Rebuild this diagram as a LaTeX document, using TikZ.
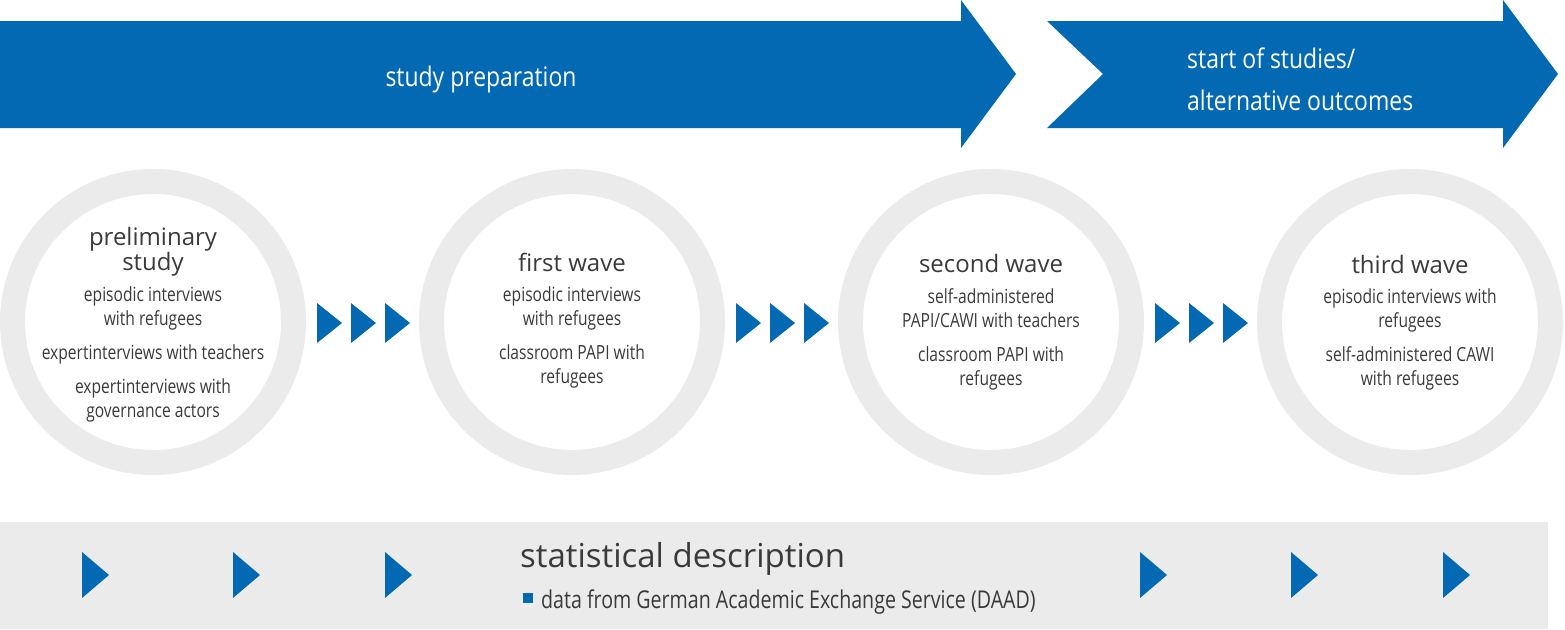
\documentclass[tikz,border=0pt]{standalone}
\usepackage{fontspec}
\setmainfont{Open Sans}
\newfontfamily\condfont[FakeStretch=0.8]{Open Sans}
\newfontfamily\bandfont[FakeStretch=0.85]{Open Sans}
\usetikzlibrary{positioning}
\definecolor{daadblue}{HTML}{0369B3}
\definecolor{ringgray}{HTML}{EBEBEB}
\definecolor{textgray}{HTML}{3A3A3A}

\begin{document}
\begin{tikzpicture}[
    x=1pt, y=-1pt,
    ring/.style={circle, draw=ringgray, line width=25pt, minimum size=281pt, inner sep=0pt},
    wavetitle/.style={anchor=base, align=center, inner sep=0pt, text=textgray, font=\fontsize{24}{22}\selectfont},
    wavetext/.style={anchor=base, align=center, inner sep=0pt, text=textgray, font=\condfont\fontsize{19.5}{24}\selectfont},
    bandtext/.style={inner sep=0pt, text=white, font=\bandfont\fontsize{27}{42}\selectfont},
    chevron/.style={fill=daadblue}
]
\useasboundingbox (0,0) rectangle (1565,629);

% phase arrows
\fill[daadblue] (0,21) -- (961,21) -- (961,0) -- (1016,74) -- (961,148) -- (961,128) -- (0,128) -- cycle;
\fill[daadblue] (1047,21) -- (1503,21) -- (1503,0) -- (1558,74) -- (1503,148) -- (1503,128) -- (1047,128) -- (1103,74) -- cycle;
\node[bandtext, anchor=base] (prep) at (481,86) {study preparation};
\node[bandtext, anchor=base west, align=left] (start) at (1187,110) {start of studies/\\alternative outcomes};

% waves (base anchor = last line)
\node[ring] (prelim) at (153,322) {};
\node[ring] (first) at (572,322) {};
\node[ring] (second) at (991,322) {};
\node[ring] (third) at (1410,322) {};

\node[wavetitle] (prelim-t) at (153,270) {preliminary\\study};
\node[wavetext] (prelim-b) at (153,417) {episodic interviews\\with refugees\\[10pt]
  expertinterviews with teachers\\[10pt]expertinterviews with\\governance actors};
\node[wavetitle] (first-t) at (572,271) {first wave};
\node[wavetext] (first-b) at (572,383) {episodic interviews\\with refugees\\[10pt]classroom PAPI with\\refugees};
\node[wavetitle] (second-t) at (991,272) {second wave};
\node[wavetext] (second-b) at (991,385) {self-administered\\PAPI/CAWI with teachers\\[10pt]classroom PAPI with\\refugees};
\node[wavetitle] (third-t) at (1410,273) {third wave};
\node[wavetext] (third-b) at (1410,385) {episodic interviews with\\refugees\\[10pt]self-administered CAWI\\with refugees};

\foreach \x in {317,351,385,736,770,804,1155,1189,1223}
  \fill[chevron] (\x,303) -- (\x+25,323) -- (\x,343) -- cycle;

% statistical description
\fill[ringgray] (0,522) rectangle (1548,629);
\foreach \x in {82,233,385,1140,1291,1443}
  \fill[chevron] (\x,552) -- (\x+27,575) -- (\x,598) -- cycle;
\node[anchor=base west, inner sep=0pt, text=textgray, font=\fontsize{33}{36}\selectfont] (stat) at (520,567) {statistical description};
\node[fill=daadblue, minimum size=10pt, inner sep=0pt] (bullet) at (528,598) {};
\node[anchor=base west, inner sep=0pt, text=textgray, font=\condfont\fontsize{24.5}{28}\selectfont] (daad) at (541,608) {data from German Academic Exchange Service (DAAD)};
\end{tikzpicture}
\end{document}
